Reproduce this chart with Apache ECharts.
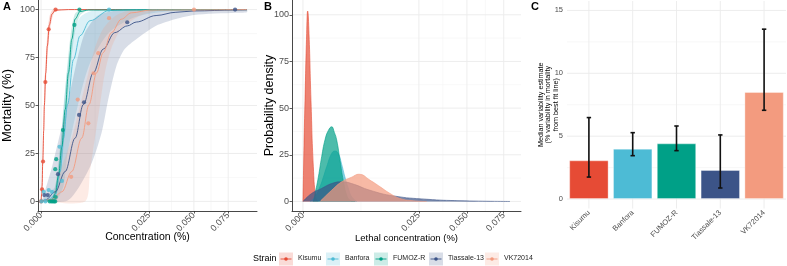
<!DOCTYPE html>
<html>
<head>
<meta charset="utf-8">
<script src="https://cdn.jsdelivr.net/npm/echarts@6/dist/echarts.min.js"></script>
<style>
  html, body { margin: 0; padding: 0; background: #fff; }
  #chart { width: 787px; height: 266px; }
</style>
</head>
<body>
<div id="chart"></div>
<script>
// strains and colours
var strains = ['Kisumu', 'Banfora', 'FUMOZ-R', 'Tiassale-13', 'VK72014'];
var colors = ['#E64B35', '#4DBBD5', '#00A087', '#3C5488', '#F39B7F'];

// A: observed mortality, [concentration %, mortality %]
var pointsKisumu = [[0, 0], [0.0000021, 6.3], [0.0000084, 20.8], [0.0000395, 62.2], [0.000124, 89.7], [0.00045, 100]];
var pointsBanfora = [[0.0000002, 0], [0.00004, 0], [0.000015, 5], [0.000124, 5.9], [0.000255, 5], [0.00073, 28.5], [0.00093, 10.7], [0.0099, 100]];
var pointsFumoz = [[0.00016, 0], [0.00023, 0], [0.0003, 0], [0.00037, 0], [0.00043, 0], [0.00046, 2.3], [0.00043, 16.8], [0.00049, 22], [0.00102, 37.2], [0.00238, 92], [0.00315, 100]];
var pointsTiassale = [[0.000023, 3.3], [0.000094, 3.3], [0.00061, 14.2], [0.00309, 45.1], [0.00395, 51.7], [0.0159, 93.4], [0.0806, 100]];
var pointsVK = [[0.00194, 12.8], [0.00288, 53.1], [0.00478, 40.7], [0.0059, 66.8], [0.007, 77.3], [0.0099, 95.5], [0.0501, 100]];

// A: fitted curves with lower / upper band
var fitKisumu = [[0, 0], [0.00000094, 4], [0.0000021, 8], [0.0000058, 20], [0.000015, 37], [0.000023, 50], [0.000046, 67], [0.000084, 81], [0.000146, 92], [0.000255, 97.7], [0.000432, 99.7], [0.00161, 100], [0.0908, 100]];
var loKisumu = [[0, 0], [0.00000094, 1], [0.0000021, 4], [0.0000058, 13], [0.000015, 30], [0.000023, 42], [0.000046, 59], [0.000084, 74], [0.000146, 87], [0.000255, 95], [0.000432, 99], [0.00161, 100], [0.0908, 100]];
var hiKisumu = [[0, 0], [0.00000094, 7], [0.0000021, 13], [0.0000058, 28], [0.000015, 45], [0.000023, 58], [0.000046, 74], [0.000084, 87], [0.000146, 96], [0.000255, 99.5], [0.000432, 100], [0.00161, 100], [0.0908, 100]];

var fitBanfora = [[0, 0], [0.000124, 0.9], [0.000432, 3.3], [0.000787, 15.6], [0.00108, 33], [0.0015, 50.5], [0.00225, 74], [0.00326, 86.4], [0.00512, 94.2], [0.00992, 99.5], [0.01873, 100], [0.0908, 100]];
var loBanfora = [[0, 0], [0.000432, 0], [0.00108, 8], [0.0015, 25], [0.00326, 55], [0.00512, 72], [0.00992, 88], [0.01873, 96], [0.0343, 99], [0.0908, 100]];
var hiBanfora = [[0, 0], [0.000432, 8], [0.000787, 28], [0.00108, 50], [0.0015, 70], [0.00225, 88], [0.00326, 96], [0.00512, 99], [0.00992, 100], [0.0908, 100]];

var fitFumoz = [[0, 0], [0.000255, 0.7], [0.000432, 4.2], [0.000657, 13.8], [0.000928, 28.7], [0.001246, 47.9], [0.00161, 67.1], [0.00202, 84.6], [0.00248, 95.1], [0.00326, 99], [0.00478, 99.8], [0.0908, 100]];
var loFumoz = [[0, 0], [0.000255, 0], [0.000432, 1.5], [0.000657, 8], [0.000928, 20], [0.001246, 38], [0.00161, 57], [0.00202, 76], [0.00248, 89], [0.00326, 97], [0.00478, 99.5], [0.0908, 100]];
var hiFumoz = [[0, 0], [0.000255, 2], [0.000432, 8], [0.000657, 21], [0.000928, 38], [0.001246, 58], [0.00161, 77], [0.00202, 91], [0.00248, 98], [0.00326, 99.8], [0.00478, 100], [0.0908, 100]];

var fitTiassale = [[0, 0], [0.0000395, 0.7], [0.000432, 5], [0.001246, 15.6], [0.00248, 33], [0.00383, 50.5], [0.00584, 67], [0.00826, 79.4], [0.01163, 88], [0.01593, 91.5], [0.01939, 93.5], [0.02832, 96.9], [0.03892, 98.6], [0.05013, 99.3], [0.08084, 99.8], [0.09076, 99.9]];
var loTiassale = [[0, 0], [0.00161, 0.7], [0.00512, 18], [0.00783, 35.7], [0.00964, 53], [0.01216, 70.6], [0.01497, 79.4], [0.01939, 84.6], [0.02832, 91.6], [0.03892, 95.1], [0.05013, 97.2], [0.08084, 98.3], [0.09076, 98.6]];
var hiTiassale = [[0, 0], [0.0000021, 0.7], [0.000255, 18], [0.000787, 35.7], [0.00161, 53], [0.00258, 70.6], [0.00414, 88], [0.007, 97], [0.01269, 99.5], [0.025, 100], [0.09076, 100]];

var fitVK = [[0, 0], [0.000255, 1], [0.000928, 5], [0.00202, 15.6], [0.00354, 33], [0.00492, 50.5], [0.0066, 67], [0.00826, 77.6], [0.01061, 88], [0.01381, 95], [0.01743, 98.3], [0.02593, 99.8], [0.09076, 100]];
var loVK = [[0, 0], [0.00414, 0], [0.00512, 15.6], [0.00621, 33], [0.00741, 50], [0.00871, 67], [0.01061, 80], [0.01381, 90], [0.02147, 97], [0.0343, 100], [0.09076, 100]];
var hiVK = [[0, 0], [0.000255, 2], [0.000787, 15.6], [0.00202, 33], [0.00326, 50], [0.00478, 67], [0.00621, 80], [0.00826, 90], [0.01216, 97], [0.01873, 100], [0.09076, 100]];

// B: probability density of lethal concentration, [concentration %, density]
var densKisumu = [[0, 0], [0.0000019, 30], [0.0000074, 54], [0.000025, 90], [0.0000405, 102], [0.000067, 90], [0.000119, 54], [0.000199, 18.6], [0.000299, 2.5], [0.0004, 0]];
var densBanfora = [[0.000091, 0], [0.000268, 2.5], [0.000538, 8], [0.00077, 13], [0.001043, 18.6], [0.00153, 25.7], [0.001906, 27], [0.00232, 25.7], [0.00278, 20], [0.00328, 13], [0.00383, 7], [0.00441, 2.5], [0.00536, 0]];
var densFumoz = [[0.000199, 0], [0.000268, 4], [0.000438, 13], [0.000649, 24], [0.000901, 33], [0.001194, 38], [0.00153, 40], [0.00183, 37], [0.00211, 33], [0.00255, 22], [0.00303, 11], [0.00355, 3.4], [0.00411, 0.7], [0.00503, 0]];
var densTiassale = [[0, 0], [0.00014, 4.3], [0.000649, 7], [0.00153, 9.6], [0.00278, 10.5], [0.00441, 9.6], [0.00836, 6], [0.01519, 3], [0.02846, 1.2], [0.04588, 0.4], [0.07975, 0]];
var densVK = [[0.000538, 0], [0.00153, 6], [0.00278, 10.5], [0.00441, 13], [0.00584, 14.6], [0.00836, 11.4], [0.01104, 7.9], [0.01409, 4.3], [0.01751, 1.6], [0.02266, 0.4], [0.02846, 0]];

// C: median variability estimate with interval
var variability = [3.08, 4.01, 4.43, 2.31, 8.52];
var varLow = [1.75, 3.45, 3.85, 0.88, 7.06];
var varHigh = [6.48, 5.28, 5.81, 5.10, 13.51];

// tick labels
var concTicks = [0, 0.025, 0.05, 0.075];
var mortTicks = [0, 25, 50, 75, 100];
var densTicks = [0, 25, 50, 75, 100];
var varTicks = [0, 5, 10, 15];

var pointSets = [pointsKisumu, pointsBanfora, pointsFumoz, pointsTiassale, pointsVK];
var fitSets = [fitKisumu, fitBanfora, fitFumoz, fitTiassale, fitVK];
var loSets = [loKisumu, loBanfora, loFumoz, loTiassale, loVK];
var hiSets = [hiKisumu, hiBanfora, hiFumoz, hiTiassale, hiVK];
var densSets = [densKisumu, densBanfora, densFumoz, densTiassale, densVK];

var FONT = '"Liberation Sans", Arial, sans-serif';
var GRID_MAJOR = '#EBEBEB';
var GRID_MINOR = '#F4F4F4';

// sqrt scale for concentration axes
function sq(p) { return [Math.sqrt(p[0]), p[1]]; }
var concTickPos = concTicks.map(Math.sqrt);

function minors(ticks) {
    var out = [];
    for (var i = 0; i < ticks.length - 1; i++) out.push((ticks[i] + ticks[i + 1]) / 2);
    return out;
}

// background grid lines drawn through the axes
function gridSeries(gi, xMajor, xMinor, yMajor, yMinor) {
    return {
        type: 'custom', xAxisIndex: gi, yAxisIndex: gi, silent: true, z: 0,
        data: [[0, 0]],
        renderItem: function (params, api) {
            var cs = params.coordSys;
            var ch = [];
            function vline(v, c, w) {
                var x = api.coord([v, 0])[0];
                ch.push({ type: 'line', shape: { x1: x, y1: cs.y, x2: x, y2: cs.y + cs.height }, style: { stroke: c, lineWidth: w } });
            }
            function hline(v, c, w) {
                var y = api.coord([0, v])[1];
                ch.push({ type: 'line', shape: { x1: cs.x, y1: y, x2: cs.x + cs.width, y2: y }, style: { stroke: c, lineWidth: w } });
            }
            xMinor.forEach(function (v) { vline(v, GRID_MINOR, 0.6); });
            yMinor.forEach(function (v) { hline(v, GRID_MINOR, 0.6); });
            xMajor.forEach(function (v) { vline(v, GRID_MAJOR, 0.9); });
            yMajor.forEach(function (v) { hline(v, GRID_MAJOR, 0.9); });
            return { type: 'group', children: ch };
        }
    };
}

function ribbonSeries(lo, hi, color) {
    return {
        type: 'custom', xAxisIndex: 0, yAxisIndex: 0, silent: true, z: 1,
        data: [[0, 0]],
        renderItem: function (params, api) {
            var pts = lo.map(function (p) { return api.coord(sq(p)); });
            hi.slice().reverse().forEach(function (p) { pts.push(api.coord(sq(p))); });
            return { type: 'polygon', shape: { points: pts, smooth: 0.25 }, style: { fill: color, opacity: 0.2 } };
        }
    };
}

var concAxisLabel = {
    customValues: concTickPos, rotate: 45, fontSize: 9, color: '#4D4D4D', fontFamily: FONT, margin: 3,
    formatter: function (v) { return (v * v).toFixed(3); }
};
var axisLineDark = { show: true, onZero: false, lineStyle: { color: '#333', width: 0.9 } };
var tickDark = { show: true, length: 2.5, lineStyle: { color: '#333', width: 0.8 } };

var series = [];
series.push(gridSeries(0, concTickPos, minors(concTickPos), mortTicks, minors(mortTicks)));
series.push(gridSeries(1, concTickPos, minors(concTickPos), densTicks, minors(densTicks)));
series.push(gridSeries(2, [0, 1, 2, 3, 4], [], varTicks, minors(varTicks)));

strains.forEach(function (s, k) { series.push(ribbonSeries(loSets[k], hiSets[k], colors[k])); });
strains.forEach(function (s, k) {
    series.push({
        name: s, type: 'line', xAxisIndex: 0, yAxisIndex: 0, z: 2,
        data: fitSets[k].map(sq), showSymbol: false, smooth: 0.35, smoothMonotone: 'x',
        lineStyle: { color: colors[k], width: 0.9 }, silent: true
    });
});
strains.forEach(function (s, k) {
    series.push({
        name: s, type: 'scatter', xAxisIndex: 0, yAxisIndex: 0, z: 3,
        data: pointSets[k].map(sq), symbolSize: 4.2,
        itemStyle: { color: colors[k] }, silent: true
    });
});
strains.forEach(function (s, k) {
    series.push({
        name: s, type: 'line', xAxisIndex: 1, yAxisIndex: 1, z: 2 + k,
        data: densSets[k].map(sq), showSymbol: false, smooth: 0.5,
        lineStyle: { color: colors[k], width: 0.6 },
        areaStyle: { color: colors[k], opacity: 0.7 }, silent: true
    });
});
series.push({
    type: 'bar', xAxisIndex: 2, yAxisIndex: 2, barWidth: '90%', z: 2, silent: true,
    data: variability.map(function (v, i) {
        return { value: v, itemStyle: { color: colors[i], borderColor: 'rgba(255,255,255,0.35)', borderWidth: 1 } };
    })
});
series.push({
    type: 'custom', xAxisIndex: 2, yAxisIndex: 2, z: 4, silent: true,
    data: strains.map(function (s, i) { return [i, varLow[i], varHigh[i]]; }),
    renderItem: function (params, api) {
        var lo = api.coord([api.value(0), api.value(1)]);
        var hi = api.coord([api.value(0), api.value(2)]);
        var w = 2.2;
        var st = { stroke: '#111', lineWidth: 1.6 };
        return {
            type: 'group', children: [
                { type: 'line', shape: { x1: lo[0], y1: lo[1], x2: hi[0], y2: hi[1] }, style: st },
                { type: 'line', shape: { x1: lo[0] - w, y1: lo[1], x2: lo[0] + w, y2: lo[1] }, style: st },
                { type: 'line', shape: { x1: hi[0] - w, y1: hi[1], x2: hi[0] + w, y2: hi[1] }, style: st }
            ]
        };
    }
});

// legend drawn as graphic
var legendX = [279, 326, 374, 429, 485];
var legendChildren = [{ type: 'text', x: 253, y: 254, style: { text: 'Strain', fontSize: 9, fontFamily: FONT, fill: '#000' } }];
strains.forEach(function (s, k) {
    var x = legendX[k];
    legendChildren.push({ type: 'rect', shape: { x: x, y: 252.5, width: 14, height: 13 }, style: { fill: colors[k], opacity: 0.2 } });
    legendChildren.push({ type: 'line', shape: { x1: x + 1.5, y1: 259, x2: x + 12.5, y2: 259 }, style: { stroke: colors[k], lineWidth: 0.9 } });
    legendChildren.push({ type: 'circle', shape: { cx: x + 7, cy: 259, r: 1.8 }, style: { fill: colors[k] } });
    legendChildren.push({ type: 'text', x: x + 19, y: 255, style: { text: s, fontSize: 7, fontFamily: FONT, fill: '#222' } });
});

var chart = echarts.init(document.getElementById('chart'), null, { renderer: 'canvas' });
chart.setOption({
    animation: false,
    backgroundColor: '#fff',
    grid: [
        { left: 36, top: 0, width: 221, height: 211 },
        { left: 292, top: 0, width: 229, height: 211 },
        { left: 567, top: 1, width: 219, height: 207.5 }
    ],
    xAxis: [
        {
            gridIndex: 0, type: 'value', min: -0.0045, max: 0.316,
            name: 'Concentration (%)', nameLocation: 'middle', nameGap: 21, nameMoveOverlap: false,
            nameTextStyle: { fontSize: 10.5, color: '#000', fontFamily: FONT },
            axisLine: axisLineDark, axisTick: Object.assign({ customValues: concTickPos }, tickDark),
            axisLabel: concAxisLabel, splitLine: { show: false }
        },
        {
            gridIndex: 1, type: 'value', min: -0.015, max: 0.2974,
            name: 'Lethal concentration (%)', nameLocation: 'middle', nameGap: 22, nameMoveOverlap: false,
            nameTextStyle: { fontSize: 9.5, color: '#000', fontFamily: FONT },
            axisLine: axisLineDark, axisTick: Object.assign({ customValues: concTickPos }, tickDark),
            axisLabel: concAxisLabel, splitLine: { show: false }
        },
        {
            gridIndex: 2, type: 'category', data: strains, boundaryGap: true,
            axisLine: { show: false }, axisTick: { show: false },
            axisLabel: { interval: 0, rotate: 45, fontSize: 7.5, color: '#4D4D4D', fontFamily: FONT, margin: 3 },
            splitLine: { show: false }
        }
    ],
    yAxis: [
        {
            gridIndex: 0, type: 'value', min: -5, max: 105,
            name: 'Mortality (%)', nameLocation: 'middle', nameGap: 24, nameMoveOverlap: false,
            nameTextStyle: { fontSize: 13, color: '#000', fontFamily: FONT },
            axisLine: axisLineDark, axisTick: Object.assign({ customValues: mortTicks }, tickDark),
            axisLabel: { customValues: mortTicks, fontSize: 9, color: '#4D4D4D', fontFamily: FONT, margin: 3 },
            splitLine: { show: false }
        },
        {
            gridIndex: 1, type: 'value', min: -5.1, max: 107.9,
            name: 'Probability density', nameLocation: 'middle', nameGap: 16, nameMoveOverlap: false,
            nameTextStyle: { fontSize: 12.5, color: '#000', fontFamily: FONT },
            axisLine: axisLineDark, axisTick: Object.assign({ customValues: densTicks }, tickDark),
            axisLabel: { customValues: densTicks, fontSize: 9, color: '#4D4D4D', fontFamily: FONT, margin: 3 },
            splitLine: { show: false }
        },
        {
            gridIndex: 2, type: 'value', min: -0.75, max: 15.75,
            name: 'Median variability estimate\n(% variability in mortality\nfrom best fit line)',
            nameLocation: 'middle', nameGap: 7.5, nameMoveOverlap: false,
            nameTextStyle: { fontSize: 7.2, lineHeight: 7.5, color: '#000', fontFamily: FONT },
            axisLine: { show: false }, axisTick: { show: false },
            axisLabel: { customValues: varTicks, fontSize: 7.5, color: '#4D4D4D', fontFamily: FONT, margin: 4 },
            splitLine: { show: false }
        }
    ],
    series: series,
    graphic: [
        { type: 'text', left: 3, top: 1, style: { text: 'A', fontSize: 11, fontWeight: 'bold', fontFamily: FONT, fill: '#000' } },
        { type: 'text', left: 264, top: 1, style: { text: 'B', fontSize: 11, fontWeight: 'bold', fontFamily: FONT, fill: '#000' } },
        { type: 'text', left: 531, top: 1, style: { text: 'C', fontSize: 11, fontWeight: 'bold', fontFamily: FONT, fill: '#000' } },
        { type: 'group', children: legendChildren }
    ]
});
</script>
</body>
</html>
